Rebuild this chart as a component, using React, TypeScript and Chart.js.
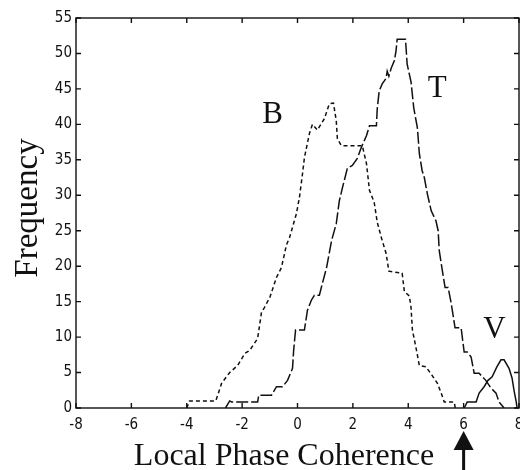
import React, { useEffect, useRef } from "react";
import { Chart, registerables } from "chart.js";

Chart.register(...registerables);

// Histogram outlines of local phase coherence for the three groups
const bX = [-4.0, -3.9, -2.95, -2.74, -2.45, -2.16, -1.9, -1.73, -1.44, -1.3, -1.19, -1.0, -0.76, -0.58, -0.4, -0.29, -0.04, 0.07, 0.18, 0.25, 0.43, 0.54, 0.72, 0.97, 1.15, 1.3, 1.4, 1.44, 1.58, 2.34, 2.49, 2.6, 2.77, 2.88, 3.03, 3.2, 3.3, 3.78, 3.86, 4.04, 4.1, 4.15, 4.3, 4.4, 4.64, 4.86, 5.05, 5.19, 5.3, 5.66, 5.7];
const bY = [0, 1, 1, 3.5, 5, 6, 7.7, 8.1, 9.8, 13.5, 14.2, 15.6, 18.4, 19.8, 23, 24, 27.4, 29.7, 33, 35.3, 38.7, 40, 39.2, 40.8, 42.9, 43, 40.5, 38, 37, 37, 34.5, 30.7, 29, 26.2, 24, 21.8, 19.3, 19, 16.4, 15.8, 14.2, 11, 8.1, 6, 5.8, 4.6, 3.5, 2.1, 0.85, 0.85, 0];

const tX = [-2.6, -2.45, -2.38, -1.44, -1.4, -0.94, -0.76, -0.54, -0.36, -0.18, -0.14, -0.07, 0.25, 0.36, 0.5, 0.61, 0.79, 0.9, 1.05, 1.23, 1.4, 1.51, 1.62, 1.8, 1.98, 2.16, 2.3, 2.49, 2.6, 2.85, 2.88, 2.95, 3.06, 3.2, 3.24, 3.3, 3.39, 3.5, 3.56, 3.6, 3.9, 3.96, 4.1, 4.2, 4.33, 4.4, 4.5, 4.58, 4.69, 4.83, 5.0, 5.08, 5.12, 5.23, 5.33, 5.44, 5.55, 5.69, 5.91, 5.98, 6.02, 6.13, 6.27, 6.38, 6.56, 6.8, 6.99, 7.17, 7.28, 7.46];
const tY = [0, 1, 0.85, 0.85, 1.8, 1.8, 3, 3, 3.9, 5.6, 8.1, 11, 11, 13.8, 15.2, 15.9, 15.9, 17.6, 19.8, 23.6, 26, 29.2, 31, 33.8, 34.2, 35.2, 36.7, 38.4, 39.8, 39.8, 42.2, 44.7, 45.7, 46.5, 47.5, 46.8, 48, 49, 50.4, 52, 52, 48.5, 46, 42.3, 39.5, 35.9, 33.5, 32.5, 30.2, 27.8, 26.4, 25, 22.2, 19.4, 17, 17, 14.8, 11.3, 11.3, 9.1, 7.9, 7.9, 7.2, 4.9, 4.9, 3.9, 2.8, 2.1, 0.85, 0];

const vX = [6.02, 6.13, 6.45, 6.56, 6.74, 6.88, 7.03, 7.2, 7.35, 7.46, 7.64, 7.75, 7.82, 7.9, 7.93];
const vY = [0, 0.85, 0.85, 2.1, 3, 3.9, 4.4, 5.8, 6.8, 6.8, 5.6, 4.2, 2.5, 0.85, 0];

// Group letters placed beside their curves (data coordinates, text baseline)
const groupNames = ["B", "T", "V"];
const groupLabelX = [-0.9, 5.05, 7.11];
const groupLabelY = [40.2, 43.9, 9.9];

const xTitle = "Local Phase Coherence";
const yTitle = "Frequency";
const markerAt = 6;

const xMin = -8, xMax = 8, xStep = 2;
const yMin = 0, yMax = 55, yStep = 5;

const SERIF = '"Liberation Serif", "DejaVu Serif", serif';
const TICK_FONT = '"DejaVu Sans Condensed", "Liberation Sans Narrow", "Liberation Sans", sans-serif';
const INK = "#111";

const toPoints = (xs: number[], ys: number[]) => xs.map((x, i) => ({ x, y: ys[i] }));

const decorPlugin = {
  id: "decor",
  afterDraw(chart: any) {
    const { ctx, chartArea: a, scales } = chart;
    const xs = scales.x, ys = scales.y;
    ctx.save();
    ctx.strokeStyle = INK;
    ctx.fillStyle = INK;
    ctx.lineWidth = 1.4;
    ctx.strokeRect(a.left, a.top, a.right - a.left, a.bottom - a.top);

    // inward tick marks on all four sides
    const len = 5;
    ctx.beginPath();
    xs.ticks.forEach((t: any) => {
      const p = xs.getPixelForValue(t.value);
      ctx.moveTo(p, a.bottom); ctx.lineTo(p, a.bottom - len);
      ctx.moveTo(p, a.top); ctx.lineTo(p, a.top + len);
    });
    ys.ticks.forEach((t: any) => {
      const p = ys.getPixelForValue(t.value);
      ctx.moveTo(a.left, p); ctx.lineTo(a.left + len, p);
      ctx.moveTo(a.right, p); ctx.lineTo(a.right - len, p);
    });
    ctx.stroke();

    // group letters
    ctx.font = `31px ${SERIF}`;
    ctx.textAlign = "center";
    ctx.textBaseline = "alphabetic";
    groupNames.forEach((n, i) => {
      ctx.fillText(n, xs.getPixelForValue(groupLabelX[i]), ys.getPixelForValue(groupLabelY[i]));
    });

    // x axis title
    ctx.font = `32px ${SERIF}`;
    ctx.fillText(xTitle, 284, 465);

    // y axis title
    ctx.save();
    ctx.translate(37, 208);
    ctx.rotate(-Math.PI / 2);
    ctx.font = `33px ${SERIF}`;
    ctx.textAlign = "center";
    ctx.fillText(yTitle, 0, 0);
    ctx.restore();

    // upward arrow beneath the marked coherence value
    const ax = xs.getPixelForValue(markerAt);
    ctx.beginPath();
    ctx.moveTo(ax, 431);
    ctx.lineTo(ax - 10, 450);
    ctx.lineTo(ax + 10, 450);
    ctx.closePath();
    ctx.fill();
    ctx.fillRect(ax - 1.5, 449, 3, 25);
    ctx.restore();
  },
};

export default function App() {
  const canvasRef = useRef<HTMLCanvasElement | null>(null);

  useEffect(() => {
    if (!canvasRef.current) return;
    const line = (data: { x: number; y: number }[], dash: number[]) => ({
      data,
      borderColor: INK,
      borderWidth: 1.5,
      borderDash: dash,
      pointRadius: 0,
      tension: 0,
      fill: false,
    });
    const chart = new Chart(canvasRef.current, {
      type: "line",
      data: {
        datasets: [
          line(toPoints(bX, bY), [4, 3]),
          line(toPoints(tX, tY), [12, 3]),
          line(toPoints(vX, vY), []),
        ],
      },
      options: {
        animation: false,
        responsive: false,
        devicePixelRatio: 1,
        layout: { padding: { top: 18, right: 21, left: 0, bottom: 0 } },
        plugins: { legend: { display: false }, tooltip: { enabled: false } },
        scales: {
          x: {
            type: "linear",
            min: xMin,
            max: xMax,
            grid: { display: false, drawTicks: false },
            border: { display: false },
            ticks: {
              stepSize: xStep,
              padding: 8,
              color: INK,
              font: { family: TICK_FONT, size: 15 },
              maxRotation: 0,
            },
            afterFit: (s: any) => { s.height = 62; },
          },
          y: {
            type: "linear",
            min: yMin,
            max: yMax,
            grid: { display: false, drawTicks: false },
            border: { display: false },
            ticks: {
              stepSize: yStep,
              padding: 4,
              color: INK,
              font: { family: TICK_FONT, size: 15 },
            },
            afterFit: (s: any) => { s.width = 76; },
          },
        },
      },
      plugins: [decorPlugin],
    });
    return () => chart.destroy();
  }, []);

  return (
    <div style={{ position: "absolute", left: 0, top: 0, width: 520, height: 470, overflow: "hidden", background: "#fff" }}>
      <canvas ref={canvasRef} width={540} height={470} style={{ display: "block" }} />
    </div>
  );
}
